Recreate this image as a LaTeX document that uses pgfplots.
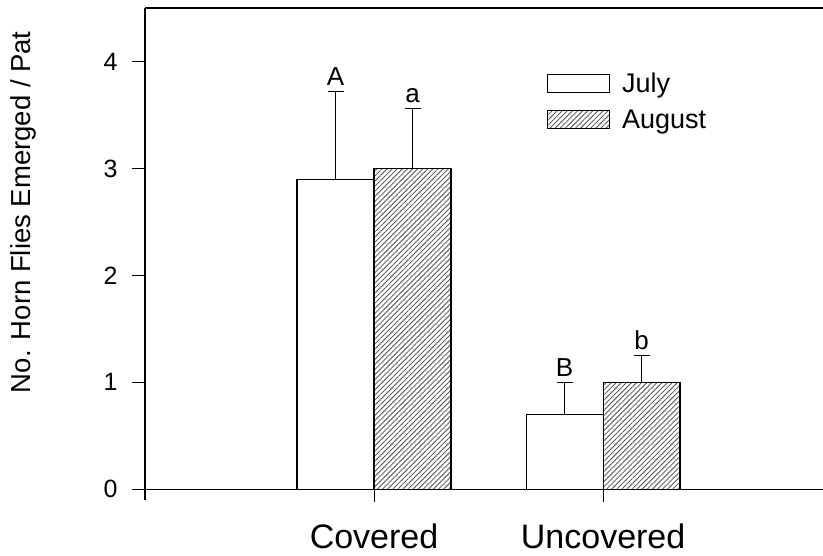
\documentclass[border=0pt]{standalone}
\usepackage{pgfplots}
\pgfplotsset{compat=1.18}
\usepackage{fontspec}
\setmainfont{Liberation Sans}
\usetikzlibrary{patterns.meta}
\begin{document}
\begin{tikzpicture}
\begin{axis}[
  at={(0,0)}, anchor=south west,
  scale only axis, width=678pt, height=492pt,
  xmin=0, xmax=2.96, ymin=-0.1, ymax=4.5,
  axis y line=left, axis x line=middle,
  axis line style={-, line width=1.2pt, black},
  xtick={1,2}, xticklabels={Covered,Uncovered},
  ytick={0,1,2,3,4}, yticklabels={0,1,2,3,4},
  tick align=outside,
  major tick length=13pt,
  tick style={line width=1.1pt, black},
  xticklabel style={font=\fontsize{34}{34}\selectfont, yshift=-18pt},
  yticklabel style={font=\fontsize{25}{25}\selectfont, xshift=-11pt},
  /pgf/number format/assume math mode=true,
  ylabel={No. Horn Flies Emerged / Pat},
  ylabel style={at={(axis description cs:-0.18,0.585)}, anchor=center, font=\fontsize{27.5}{27.5}\selectfont},
  legend style={at={(rel axis cs:0.588,0.877)}, anchor=north west, draw=none, fill=none,
    font=\fontsize{27}{27}\selectfont, row sep=12pt, column sep=10pt},
  legend cell align=left,
  legend image code/.code={\draw[#1] (0pt,-9pt) rectangle (62pt,9pt);},
  clip=false,
]
\addplot[ybar, bar width=0.336, bar shift=0, fill=white, draw=black, line width=1.2pt,
  error bars/.cd, y dir=plus, y explicit,
  error bar style={line width=1.2pt, black},
  error mark options={rotate=90, line width=1.2pt, mark size=8pt, black}]
  coordinates {(0.832,2.9) +- (0,0.82) (1.832,0.7) +- (0,0.3)};
\addlegendentry{July}
\addplot[ybar, bar width=0.336, bar shift=0, draw=black, line width=1.2pt,
  pattern={Lines[angle=45, distance=3.6pt, line width=0.8pt]}, pattern color=black!70,
  error bars/.cd, y dir=plus, y explicit,
  error bar style={line width=1.2pt, black},
  error mark options={rotate=90, line width=1.2pt, mark size=8pt, black}]
  coordinates {(1.168,3.0) +- (0,0.56) (2.168,1.0) +- (0,0.25)};
\addlegendentry{August}
\addplot[only marks, mark=*, mark size=0pt, forget plot, nodes near coords, point meta=explicit symbolic,
  nodes near coords style={anchor=south, font=\fontsize{26}{26}\selectfont, inner sep=0pt, yshift=6pt}]
  coordinates {(0.832,3.72)[A] (1.168,3.56)[a] (1.832,1.0)[B] (2.168,1.25)[b]};
\draw[line width=1.2pt] (rel axis cs:0,1) -- (rel axis cs:1,1);
\end{axis}
\pgfresetboundingbox
\path[use as bounding box] (-145pt,-56pt) rectangle (678pt,500pt);
\end{tikzpicture}
\end{document}
